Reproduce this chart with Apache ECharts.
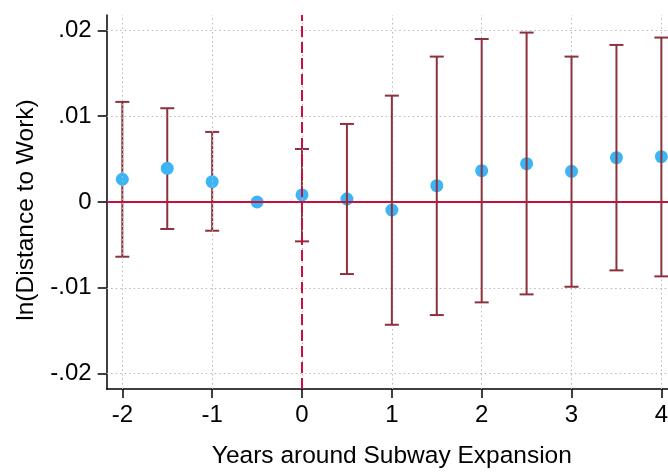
<!DOCTYPE html>
<html><head><meta charset="utf-8">
<script src="https://cdn.jsdelivr.net/npm/echarts@6/dist/echarts.min.js"></script>
<style>html,body{margin:0;padding:0;background:#fff;overflow:hidden;width:668px;height:474px}#c{width:686px;height:474px}</style>
</head><body><div id="c"></div>
<script>
const years = [-2, -1.5, -1, -0.5, 0, 0.5, 1, 1.5, 2, 2.5, 3, 3.5, 4];
const coef  = [0.00265, 0.00393, 0.00237, 0, 0.00082, 0.00035, -0.00093, 0.0019, 0.00365, 0.00447, 0.00358, 0.00517, 0.00528];
const upper = [0.01167, 0.01093, 0.00817, null, 0.00618, 0.0091, 0.0124, 0.01695, 0.019, 0.01975, 0.01695, 0.01831, 0.01917];
const lower = [-0.00638, -0.00315, -0.00335, null, -0.00459, -0.0084, -0.01431, -0.01318, -0.0117, -0.01077, -0.00988, -0.00797, -0.00867];
const xTicks = [-2, -1, 0, 1, 2, 3, 4];
const yTicks = [-0.02, -0.01, 0, 0.01, 0.02];
const xTitle = 'Years around Subway Expansion';
const yTitle = 'ln(Distance to Work)';

const FONT = 'Liberation Sans, Arial, Helvetica, sans-serif';
const ciPre = [], ciPost = [];
years.forEach((x, i) => {
  if (upper[i] == null) return;
  (x > 0 ? ciPost : ciPre).push([x, lower[i], upper[i]]);
});
const ptData = years.map((x, i) => [x, coef[i]]);

function fmtY(v) {
  if (Math.abs(v) < 1e-12) return '0';
  const s = Math.abs(v).toFixed(2).replace(/^0/, '');
  return (v < 0 ? '-' : '') + s;
}

const gridStyle = {color: '#b8b8b8', width: 1, type: [1.5, 3]};
const gridLines = [];
xTicks.forEach(v => gridLines.push({xAxis: v, lineStyle: gridStyle}));
yTicks.forEach(v => { if (v !== 0) gridLines.push({yAxis: v, lineStyle: gridStyle}); });

function ciRender(params, api) {
  const x = api.value(0);
  const lo = api.coord([x, api.value(1)]);
  const hi = api.coord([x, api.value(2)]);
  const hw = 7;
  const st = {stroke: '#8b323c', lineWidth: 2};
  return {type: 'group', children: [
    {type: 'line', shape: {x1: lo[0], y1: lo[1], x2: hi[0], y2: hi[1]}, style: st},
    {type: 'line', shape: {x1: lo[0] - hw, y1: lo[1], x2: lo[0] + hw, y2: lo[1]}, style: st},
    {type: 'line', shape: {x1: hi[0] - hw, y1: hi[1], x2: hi[0] + hw, y2: hi[1]}, style: st}
  ]};
}

const chart = echarts.init(document.getElementById('c'), null, {renderer: 'canvas'});
chart.setOption({
  animation: false,
  backgroundColor: '#fff',
  grid: {left: 106.7, top: 15, width: 570.3, height: 374.3, containLabel: false},
  xAxis: {
    type: 'value', min: -2.174, max: 4.174,
    name: xTitle, nameLocation: 'middle', nameGap: 55,
    nameTextStyle: {fontFamily: FONT, fontSize: 24.5, color: '#000'},
    axisLine: {show: true, onZero: false, lineStyle: {color: '#000', width: 1.5}},
    axisTick: {show: true, length: 9, customValues: xTicks, lineStyle: {color: '#000', width: 1.5}},
    axisLabel: {customValues: xTicks, margin: 14, fontFamily: FONT, fontSize: 24, color: '#000',
      formatter: v => String(v)},
    splitLine: {show: false}
  },
  yAxis: {
    type: 'value', min: -0.0218, max: 0.0218,
    axisLine: {show: true, onZero: false, lineStyle: {color: '#000', width: 1.5}},
    axisTick: {show: true, length: 9, customValues: yTicks, lineStyle: {color: '#000', width: 1.5}},
    axisLabel: {customValues: yTicks, margin: 15, fontFamily: FONT, fontSize: 24, color: '#000', formatter: fmtY},
    splitLine: {show: false}
  },
  graphic: [{
    type: 'text', x: 26, y: 210, rotation: Math.PI / 2,
    style: {text: yTitle, fontFamily: FONT, fontSize: 24.5, fill: '#000', align: 'center', verticalAlign: 'middle'}
  }],
  series: [
    {
      type: 'line', data: [], silent: true, z: 1,
      markLine: {symbol: 'none', silent: true, label: {show: false}, animation: false, data: gridLines}
    },
    {
      type: 'line', data: [], silent: true, z: 2,
      markLine: {
        symbol: 'none', silent: true, label: {show: false}, animation: false,
        data: [
          {yAxis: 0, lineStyle: {color: '#c8103e', width: 2, type: 'solid'}},
          {xAxis: 0, lineStyle: {color: '#c8103e', width: 2, type: [11, 5]}}
        ]
      }
    },
    {type: 'custom', z: 3, data: ciPre, renderItem: ciRender},
    {
      type: 'scatter', z: 4, data: ptData, symbol: 'circle', symbolSize: 13,
      itemStyle: {color: '#3bb5f6', opacity: 1}
    },
    {type: 'custom', z: 5, data: ciPost, renderItem: ciRender}
  ]
});
</script></body></html>
